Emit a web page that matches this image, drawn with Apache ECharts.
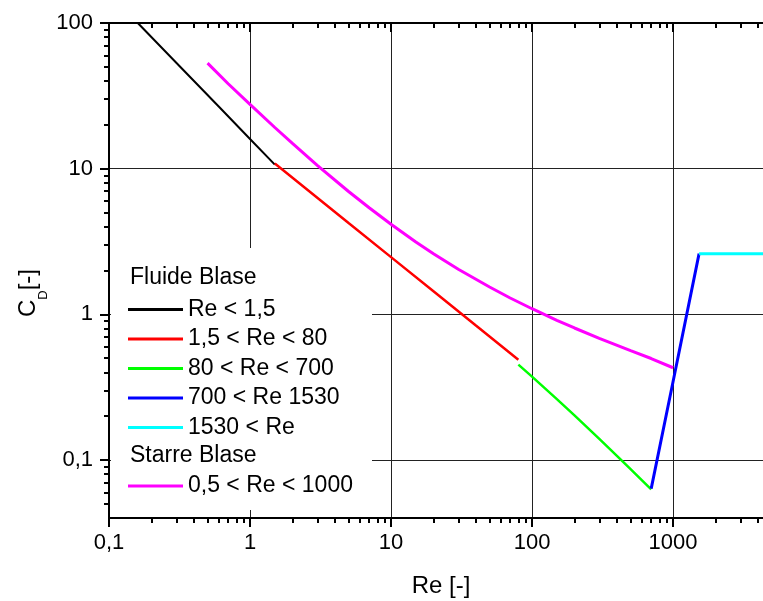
<!DOCTYPE html>
<html><head><meta charset="utf-8">
<script src="https://cdn.jsdelivr.net/npm/echarts@6/dist/echarts.min.js"></script>
<style>html,body{margin:0;padding:0;background:#fff}#c{width:763px;height:601px}</style>
</head><body><div id="c"></div>
<script>
// ---- data ----
const majorX = [0.1, 1, 10, 100, 1000];
const minorX = [0.2,0.3,0.4,0.5,0.6,0.7,0.8,0.9, 2,3,4,5,6,7,8,9, 20,30,40,50,60,70,80,90, 200,300,400,500,600,700,800,900, 2000,3000,4000];
const majorY = [0.1, 1, 10, 100];
const minorY = [0.05,0.06,0.07,0.08,0.09, 0.2,0.3,0.4,0.5,0.6,0.7,0.8,0.9, 2,3,4,5,6,7,8,9, 20,30,40,50,60,70,80,90];

const groupTitles = ['Fluide Blase', 'Starre Blase'];
const fluidNames = ['Re < 1,5', '1,5 < Re < 80', '80 < Re < 700', '700 < Re 1530', '1530 < Re'];
const rigidNames = ['0,5 < Re < 1000'];
const xTitle = 'Re [-]';

const blackRe = [0.16, 0.3, 0.6, 1, 1.5];
const blackCd = [100, 53.3, 26.7, 16, 10.67];
const redRe = [1.5, 5, 10, 20, 40, 80];
const redCd = [10.86, 4.24, 2.47, 1.44, 0.838, 0.488];
const greenRe = [80, 100, 150, 200, 300, 400, 500, 600, 700];
const greenCd = [0.452, 0.374, 0.262, 0.2025, 0.1396, 0.1067, 0.0865, 0.0728, 0.0629];
const blueRe = [700, 1000, 1530];
const blueCd = [0.0636, 0.345, 2.61];
const cyanRe = [1530, 5000];
const cyanCd = [2.61, 2.61];
const magentaRe = [0.5, 0.7, 1, 1.5, 2, 3, 5, 7, 10, 15, 20, 30, 50, 70, 100, 150, 200, 300, 500, 700, 1000];
const magentaCd = [53, 38.3, 27.6, 19.17, 14.9, 10.55, 6.97, 5.39, 4.15, 3.14, 2.61, 2.04, 1.54, 1.295, 1.093, 0.91, 0.806, 0.684, 0.563, 0.4975, 0.43];

// ---- chart ----
const FONT = 'Liberation Sans, Arial, sans-serif';
const pair = (xs, ys) => xs.map((x, i) => [x, ys[i]]);
const fmt = v => String(+(+v).toPrecision(6)).replace('.', ',');

const X_MIN = 0.1, X_MAX = 4345, Y_MIN = 0.04, Y_MAX = 100;

function xAx(pos, vals, len, inside, opts) {
  return Object.assign({
    type: 'log', logBase: 10, min: X_MIN, max: X_MAX, position: pos, gridIndex: 0,
    axisLine: { show: true, lineStyle: { color: '#000', width: 2 } },
    axisTick: { show: true, customValues: vals, length: len, inside: inside, lineStyle: { color: '#000', width: 2 } },
    axisLabel: { show: false },
    splitLine: { show: false }
  }, opts || {});
}
function yAx(vals, len, opts) {
  return Object.assign({
    type: 'log', logBase: 10, min: Y_MIN, max: Y_MAX, position: 'left', gridIndex: 0,
    axisLine: { show: true, lineStyle: { color: '#000', width: 2 } },
    axisTick: { show: true, customValues: vals, length: len, inside: false, lineStyle: { color: '#000', width: 2 } },
    axisLabel: { show: false },
    splitLine: { show: false }
  }, opts || {});
}

const chart = echarts.init(document.getElementById('c'), null, { renderer: 'canvas' });

function mkSeries(name, xs, ys, color, w) {
  return {
    name: name, type: 'line', data: pair(xs, ys), xAxisIndex: 0, yAxisIndex: 0,
    symbol: 'none', showSymbol: false, smooth: false, clip: true, z: 3,
    color: color, itemStyle: { color: color },
    lineStyle: { color: color, width: w }, animation: false
  };
}

const legendBase = {
  orient: 'vertical', left: 128, padding: 0, itemWidth: 55, itemHeight: 3, icon: 'rect',
  itemGap: 6.5, selectedMode: false, z: 6,
  textStyle: { fontSize: 23, color: '#000', fontFamily: FONT, lineHeight: 22 }
};

chart.setOption({
  animation: false,
  backgroundColor: '#fff',
  grid: { left: 109, top: 23, right: 0, bottom: 83, containLabel: false },
  xAxis: [
    xAx('bottom', majorX, 9, false, {
      axisLabel: { show: true, customValues: majorX, formatter: fmt, margin: 14, fontSize: 22, color: '#000', fontFamily: FONT },
      splitLine: { show: true, lineStyle: { color: '#222', width: 1 } }
    }),
    xAx('bottom', minorX, 5, false),
    xAx('top', majorX, 9, true),
    xAx('top', minorX, 5, true)
  ],
  yAxis: [
    yAx(majorY, 9, {
      axisLabel: { show: true, customValues: majorY, formatter: fmt, margin: 16, fontSize: 22, color: '#000', fontFamily: FONT },
      splitLine: { show: true, lineStyle: { color: '#222', width: 1 } }
    }),
    yAx(minorY, 5)
  ],
  legend: [
    Object.assign({}, legendBase, { data: fluidNames, top: 298 }),
    Object.assign({}, legendBase, { data: rigidNames, top: 474.5 })
  ],
  series: [
    mkSeries(fluidNames[0], blackRe, blackCd, '#000000', 2),
    mkSeries(fluidNames[1], redRe, redCd, '#ff0000', 2.5),
    mkSeries(fluidNames[2], greenRe, greenCd, '#00ff00', 2.5),
    mkSeries(fluidNames[3], blueRe, blueCd, '#0000ff', 3),
    mkSeries(fluidNames[4], cyanRe, cyanCd, '#00ffff', 3),
    mkSeries(rigidNames[0], magentaRe, magentaCd, '#ff00ff', 3)
  ],
  graphic: [
    { type: 'rect', z: 1, silent: true, shape: { x: 111, y: 248, width: 261, height: 262 }, style: { fill: '#fff' } },
    { type: 'text', z: 6, x: 130, y: 278, style: { text: groupTitles[0], fill: '#000', fontSize: 23, fontFamily: FONT, verticalAlign: 'middle', align: 'left' } },
    { type: 'text', z: 6, x: 130, y: 456, style: { text: groupTitles[1], fill: '#000', fontSize: 23, fontFamily: FONT, verticalAlign: 'middle', align: 'left' } },
    { type: 'text', z: 6, x: 441, y: 586, style: { text: xTitle, fill: '#000', fontSize: 24, fontFamily: FONT, verticalAlign: 'middle', align: 'center' } },
    { type: 'text', z: 6, x: 28, y: 293, rotation: Math.PI / 2,
      style: { text: '{a|C}{b|D}{a|[-]}', fill: '#000', align: 'center', verticalAlign: 'middle',
        rich: { a: { fontSize: 24, fontFamily: FONT, fill: '#000' }, b: { fontSize: 13, fontFamily: FONT, fill: '#000', padding: [31, 0, 0, 0] } } } }
  ]
});
</script></body></html>
